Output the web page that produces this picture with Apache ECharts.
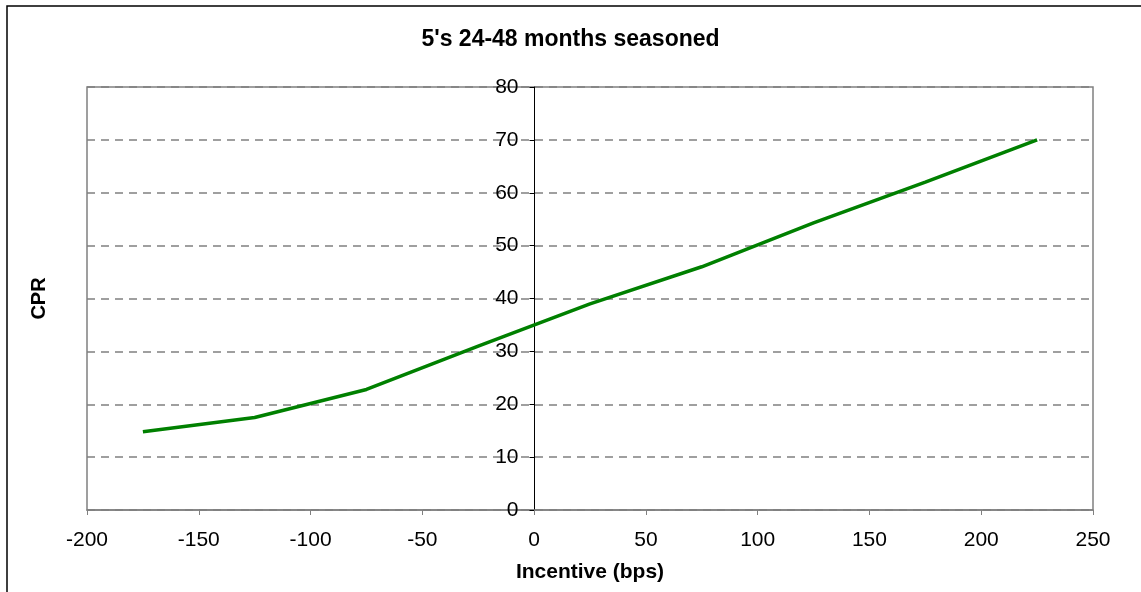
<!DOCTYPE html>
<html>
<head>
<meta charset="utf-8">
<script src="https://cdn.jsdelivr.net/npm/echarts@6/dist/echarts.min.js"></script>
<style>
  html, body { margin: 0; padding: 0; background: #fff; }
  #chart { width: 1141px; height: 592px; }
</style>
</head>
<body>
<div id="chart"></div>
<script>
// incentive (bps) vs CPR
const incentive = [-175, -125, -75, -25, 25, 75, 125, 175, 225]
const cpr = [14.8, 17.5, 22.8, 31, 39, 46, 54.3, 62, 70]

const myChart = echarts.init(document.getElementById('chart'))
const font = 'Arial, "Liberation Sans", sans-serif'

// y axis sits on x = 0, i.e. 447.5px right of the grid's left edge
const yAxisShift = 447.5

const option = {
  backgroundColor: '#fff',
  animation: false,
  title: {
    text: "5's 24-48 months seasoned",
    left: 'center',
    top: 23,
    textStyle: { fontFamily: font, fontSize: 23, fontWeight: 'bold', color: '#000' }
  },
  graphic: [{
    type: 'rect',
    shape: { x: 7, y: 6, width: 1140, height: 600 },
    style: { fill: 'none', stroke: '#000', lineWidth: 1.5 },
    silent: true,
    z: -1
  }],
  grid: {
    left: 87, right: 48, top: 87, bottom: 82,
    show: true,
    borderColor: '#808080',
    borderWidth: 1.5
  },
  xAxis: {
    type: 'value',
    min: -200, max: 250, interval: 50,
    name: 'Incentive (bps)',
    nameLocation: 'middle',
    nameGap: 52,
    nameTextStyle: { fontFamily: font, fontSize: 21, fontWeight: 'bold', color: '#000' },
    axisLine: { show: true, lineStyle: { color: '#808080', width: 1.5 } },
    axisTick: { show: true, inside: false, length: 5, lineStyle: { color: '#808080' } },
    axisLabel: { fontFamily: font, fontSize: 21, color: '#000', margin: 20 },
    splitLine: { show: false }
  },
  yAxis: {
    type: 'value',
    min: 0, max: 80, interval: 10,
    offset: -yAxisShift,
    name: 'CPR',
    nameLocation: 'middle',
    nameRotate: 90,
    nameGap: yAxisShift + 38,
    nameTextStyle: { fontFamily: font, fontSize: 20, fontWeight: 'bold', color: '#000' },
    axisLine: { show: true, onZero: false, lineStyle: { color: '#000', width: 1 } },
    axisTick: { show: true, length: 5, lineStyle: { color: '#000' } },
    axisLabel: { fontFamily: font, fontSize: 21, color: '#000', margin: 16 },
    splitLine: { show: true, lineStyle: { color: '#808080', type: [8, 6], width: 1.5 } }
  },
  series: [{
    type: 'line',
    data: incentive.map((x, i) => [x, cpr[i]]),
    symbol: 'none',
    smooth: false,
    lineStyle: { color: '#008000', width: 3.5 },
    itemStyle: { color: '#008000' }
  }]
}
myChart.setOption(option)
</script>
</body>
</html>
